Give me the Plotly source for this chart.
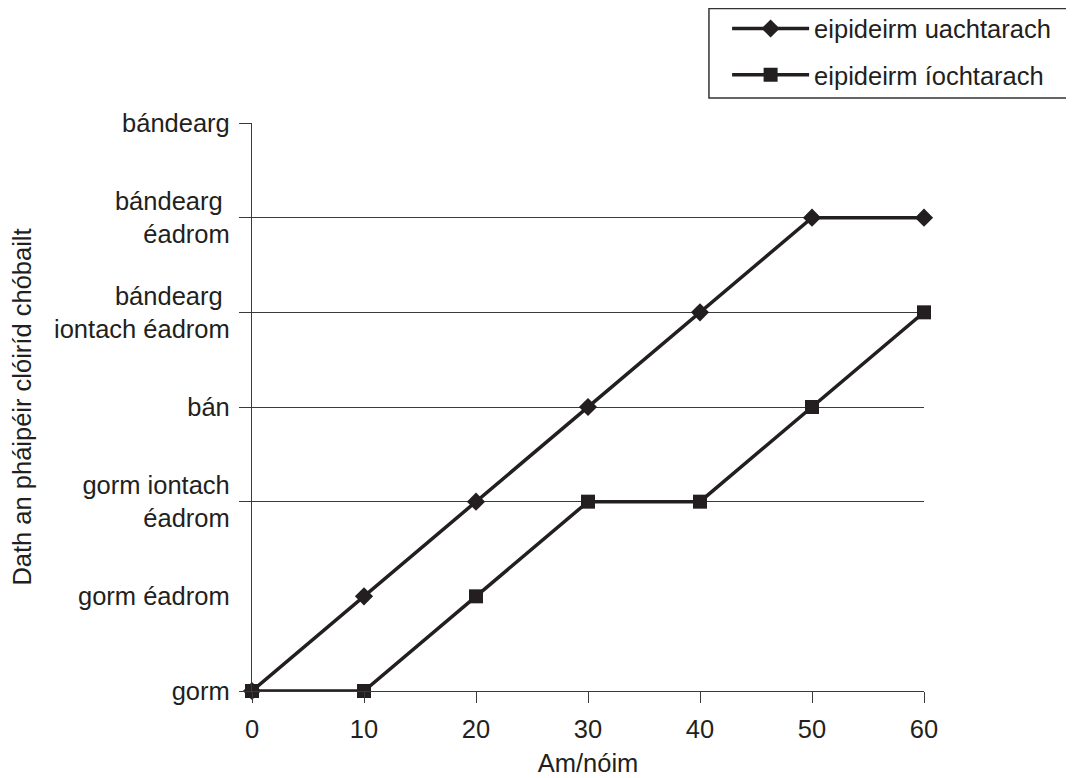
import plotly.graph_objects as go

time_min = [0, 10, 20, 30, 40, 50, 60]
upper_epidermis = [0, 1, 2, 3, 4, 5, 5]
lower_epidermis = [0, 0, 1, 2, 2, 3, 4]

series_names = ["eipideirm uachtarach", "eipideirm íochtarach"]
colour_levels = [0, 1, 2, 3, 4, 5, 6]
colour_labels = [
    "gorm",
    "gorm éadrom",
    "gorm iontach<br>éadrom",
    "bán",
    "bándearg\u00a0<br>iontach éadrom",
    "bándearg\u00a0<br>éadrom",
    "bándearg",
]
grid_levels = [0, 2, 3, 4, 5, 6]

FONT = "Liberation Sans, Arial, sans-serif"
INK = "#231f20"
GRID = "#3a3a3a"
FS = 25.5

fig = go.Figure()
fig.add_trace(go.Scatter(
    x=time_min, y=upper_epidermis, name=series_names[0], mode="lines+markers",
    line=dict(color=INK, width=3.5),
    marker=dict(symbol="diamond", size=14, color=INK),
    cliponaxis=False, legendgroup="a",
))
fig.add_trace(go.Scatter(
    x=time_min, y=lower_epidermis, name=series_names[1], mode="lines+markers",
    line=dict(color=INK, width=3.5),
    marker=dict(symbol="square", size=14, color=INK),
    cliponaxis=False, legendgroup="b",
))

tick_text = [colour_labels[colour_levels.index(v)] for v in grid_levels]

fig.update_layout(
    width=1066, height=770,
    margin=dict(l=244, r=150, t=115, b=87, autoexpand=False),
    paper_bgcolor="white", plot_bgcolor="white",
    font=dict(family=FONT, size=FS, color=INK),
    showlegend=True,
    legend=dict(
        x=0.707, y=1.207, xanchor="left", yanchor="top",
        borderwidth=0,
        font=dict(size=25.5), traceorder="grouped", tracegroupgap=10,
        itemwidth=77, bgcolor="rgba(0,0,0,0)",
    ),
    xaxis=dict(
        range=[0, 60], tickvals=time_min, ticks="outside", ticklen=11,
        tickcolor=GRID, showline=True, linecolor=GRID, linewidth=1.2,
        showgrid=False, zeroline=False, ticklabelstandoff=4,
        title=dict(text="Am/nóim", font=dict(size=FS), standoff=12),
    ),
    yaxis=dict(
        range=[0, 6], tickvals=grid_levels, ticktext=tick_text,
        ticks="outside", ticklen=12, tickcolor=GRID,
        showline=True, linecolor=GRID, linewidth=1.2,
        showgrid=True, gridcolor=GRID, gridwidth=1.2, zeroline=False,
        ticklabelstandoff=4,
        title=dict(text="Dath an pháipéir clóiríd chóbailt", font=dict(size=FS), standoff=20),
    ),
)

# legend frame
fig.add_shape(
    type="rect", xref="paper", yref="paper",
    x0=0.680, x1=1.2202, y0=1.044, y1=1.2015,
    line=dict(color="#333333", width=1.5), fillcolor="white", layer="below",
)

fig.add_annotation(
    x=0, xref="paper", y=colour_levels[1], yref="y",
    text=colour_labels[1], showarrow=False, xanchor="right", yanchor="middle",
    xshift=-20, font=dict(size=FS, family=FONT, color=INK),
)

fig.write_html("out.html")
